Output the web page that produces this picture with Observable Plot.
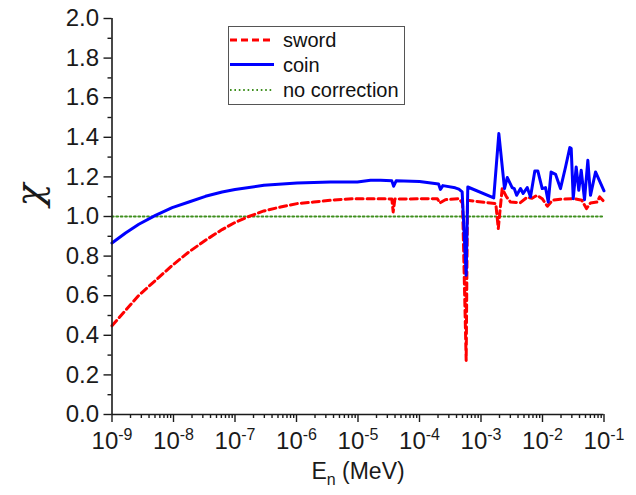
<!DOCTYPE html>
<html><head><meta charset="utf-8">
<script src="https://cdn.jsdelivr.net/npm/d3@7"></script>
<script src="https://cdn.jsdelivr.net/npm/@observablehq/plot@0.6"></script>
<style>
body{margin:0;background:#fff;font-family:"Liberation Sans",Arial,sans-serif;}
#wrap{position:relative;width:636px;height:495px;}
#legend{position:absolute;left:228px;top:26px;}
#wrap svg text{font-family:"Liberation Sans",Arial,sans-serif;}
</style></head><body><div id="wrap"></div>
<script>
// ---- data ----
const swordE = [1.00e-9,1.66e-9,2.73e-9,5.09e-9,9.53e-9,1.78e-8,3.31e-8,6.17e-8,1.00e-7,1.58e-7,2.95e-7,5.50e-7,1.02e-6,1.91e-6,3.57e-6,8.55e-6,2.34e-5,3.55e-5,3.73e-5,3.98e-5,1.95e-4,2.14e-4,2.63e-4,4.37e-4,5.01e-4,5.74e-4,6.03e-4,1.74e-3,1.91e-3,2.21e-3,2.60e-3,3.02e-3,4.37e-3,5.62e-3,6.76e-3,8.13e-3,9.89e-3,1.20e-2,1.45e-2,1.95e-2,3.24e-2,4.37e-2,5.19e-2,6.03e-2,7.76e-2,8.51e-2,1.00e-1];
const swordChi = [0.448,0.526,0.602,0.677,0.753,0.821,0.880,0.934,0.970,0.997,1.028,1.048,1.065,1.073,1.082,1.090,1.090,1.088,1.023,1.088,1.090,1.068,1.085,1.090,1.067,0.273,1.082,1.065,0.939,1.141,1.099,1.073,1.070,1.097,1.092,1.107,1.090,1.052,1.082,1.087,1.090,1.082,1.040,1.068,1.073,1.099,1.075];
const coinE = [1.00e-9,1.66e-9,2.73e-9,5.09e-9,9.53e-9,1.78e-8,3.31e-8,6.17e-8,1.00e-7,2.95e-7,1.02e-6,3.57e-6,9.77e-6,1.60e-5,2.34e-5,3.55e-5,3.80e-5,4.17e-5,1.00e-4,2.04e-4,2.19e-4,2.40e-4,3.80e-4,4.37e-4,4.94e-4,5.74e-4,6.10e-4,1.61e-3,1.95e-3,2.41e-3,2.67e-3,3.21e-3,3.47e-3,3.80e-3,4.39e-3,4.85e-3,5.64e-3,6.38e-3,7.50e-3,8.39e-3,9.89e-3,1.12e-2,1.24e-2,1.38e-2,1.63e-2,1.96e-2,2.37e-2,2.78e-2,2.93e-2,3.16e-2,3.53e-2,3.89e-2,4.26e-2,4.82e-2,5.46e-2,6.03e-2,7.28e-2,1.00e-1];
const coinChi = [0.866,0.917,0.961,1.006,1.045,1.073,1.102,1.124,1.136,1.158,1.169,1.174,1.174,1.183,1.183,1.180,1.153,1.180,1.177,1.164,1.137,1.156,1.145,1.138,1.124,0.703,1.149,1.094,1.419,1.141,1.197,1.146,1.141,1.107,1.141,1.116,1.146,1.099,1.230,1.230,1.141,1.146,1.073,1.225,1.213,1.141,1.250,1.348,1.343,1.090,1.250,1.132,1.234,1.085,1.284,1.107,1.225,1.130];
const refE = [1e-9, 1e-1];
const refChi = [1, 1];

const seriesNames = ["sword", "coin", "no correction"];
const seriesColors = ["#ff0000", "#0000ff", "#3f8f1f"];
const seriesDash = ["7,4", null, "1.6,2.8"];
const seriesWidth = [3, 3, 2.2];

const xMajorTicks = [1e-9,1e-8,1e-7,1e-6,1e-5,1e-4,1e-3,1e-2,1e-1];
const xTickLabels = ["10^-9","10^-8","10^-7","10^-6","10^-5","10^-4","10^-3","10^-2","10^-1"];
const xMinorTicks = [];
for (const d of xMajorTicks.slice(0, -1)) for (const m of [2,3,4,5,6,7,8,9]) xMinorTicks.push(d * m);
const yMajorTicks = [0,0.2,0.4,0.6,0.8,1.0,1.2,1.4,1.6,1.8,2.0];
const yTickLabels = ["0.0","0.2","0.4","0.6","0.8","1.0","1.2","1.4","1.6","1.8","2.0"];
const yMinorTicks = [0.1,0.3,0.5,0.7,0.9,1.1,1.3,1.5,1.7,1.9];
const xLabel = "E_n (MeV)";
const yLabel = "χ";

const xLab = new Map(xMajorTicks.map((t, i) => [t, xTickLabels[i]]));
const yLab = new Map(yMajorTicks.map((t, i) => [t, yTickLabels[i]]));
const axisColor = "#1a1a1a";

const plot = Plot.plot({
  width: 636, height: 495,
  marginLeft: 111.5, marginRight: 32.5, marginTop: 18, marginBottom: 81,
  style: {fontFamily: "'Liberation Sans', Arial, sans-serif", background: "white", color: axisColor},
  x: {type: "log", domain: [1e-9, 1e-1]},
  y: {domain: [0, 2]},
  marks: [
    Plot.line(refChi, {x: refE, y: refChi, stroke: seriesColors[2], strokeWidth: seriesWidth[2], strokeDasharray: seriesDash[2]}),
    Plot.line(swordChi, {x: swordE, y: swordChi, stroke: seriesColors[0], strokeWidth: seriesWidth[0], strokeDasharray: seriesDash[0], strokeLinejoin: "round"}),
    Plot.line(coinChi, {x: coinE, y: coinChi, stroke: seriesColors[1], strokeWidth: seriesWidth[1], strokeLinejoin: "round"}),
    Plot.axisY({ticks: yMinorTicks, tickSize: 4, tickFormat: () => "", stroke: axisColor, strokeWidth: 1.4}),
    Plot.axisY({ticks: yMajorTicks, tickSize: 8, tickPadding: 5, tickFormat: d => yLab.get(d), fontSize: 24, stroke: axisColor, strokeWidth: 1.4}),
    Plot.axisX({ticks: xMinorTicks, tickSize: 4, tickFormat: () => "", stroke: axisColor, strokeWidth: 1.4}),
    Plot.axisX({ticks: xMajorTicks, tickSize: 8, tickPadding: 9, tickFormat: d => xLab.get(d), fontSize: 24, stroke: axisColor, strokeWidth: 1.4}),
    Plot.ruleX([1e-9], {stroke: axisColor, strokeWidth: 1.6}),
    Plot.ruleY([0], {stroke: axisColor, strokeWidth: 1.6}),
    Plot.text([yLabel], {frameAnchor: "left", dx: -82, dy: -10, rotate: -90, fontSize: 38, fill: axisColor}),
    Plot.text([xLabel], {frameAnchor: "bottom", dy: 64, fontSize: 23, fill: axisColor})
  ]
});

// superscripts / subscripts
d3.select(plot).selectAll("text").each(function() {
  const t = this.textContent;
  const sel = d3.select(this);
  if (yTickLabels.includes(t)) {
    sel.style("font-size", "24px");
  } else if (xTickLabels.includes(t)) {
    const exp = t.slice(3);
    sel.text("").style("font-size", "24px");
    sel.append("tspan").text("10");
    sel.append("tspan").attr("dy", -9).style("font-size", "16px").text(exp);
  } else if (t === xLabel) {
    sel.text("");
    sel.append("tspan").text("E");
    sel.append("tspan").attr("dy", 6).style("font-size", "16px").text("n");
    sel.append("tspan").attr("dy", -6).text(" (MeV)");
  } else if (t === yLabel) {
    sel.style("font-family", "'DejaVu Serif', serif").style("font-style", "italic");
  }
});

const wrap = document.getElementById("wrap");
wrap.appendChild(plot);

// legend overlay (inside the plot frame, as in the reference)
const lg = d3.select(wrap).append("svg").attr("id", "legend").attr("width", 177).attr("height", 79);
lg.append("rect").attr("x", 0.5).attr("y", 0.5).attr("width", 176).attr("height", 78)
  .attr("fill", "white").attr("stroke", "#555").attr("stroke-width", 1);
const rowY = [14, 38.5, 64];
seriesNames.forEach((name, i) => {
  lg.append("line").attr("x1", 2).attr("x2", 46).attr("y1", rowY[i]).attr("y2", rowY[i])
    .attr("stroke", seriesColors[i]).attr("stroke-width", seriesWidth[i])
    .attr("stroke-dasharray", seriesDash[i]);
  lg.append("text").attr("x", 55).attr("y", rowY[i] + 7).attr("font-size", 20)
    .attr("font-family", "'Liberation Sans', Arial, sans-serif").attr("fill", "#111").text(name);
});
</script></body></html>
